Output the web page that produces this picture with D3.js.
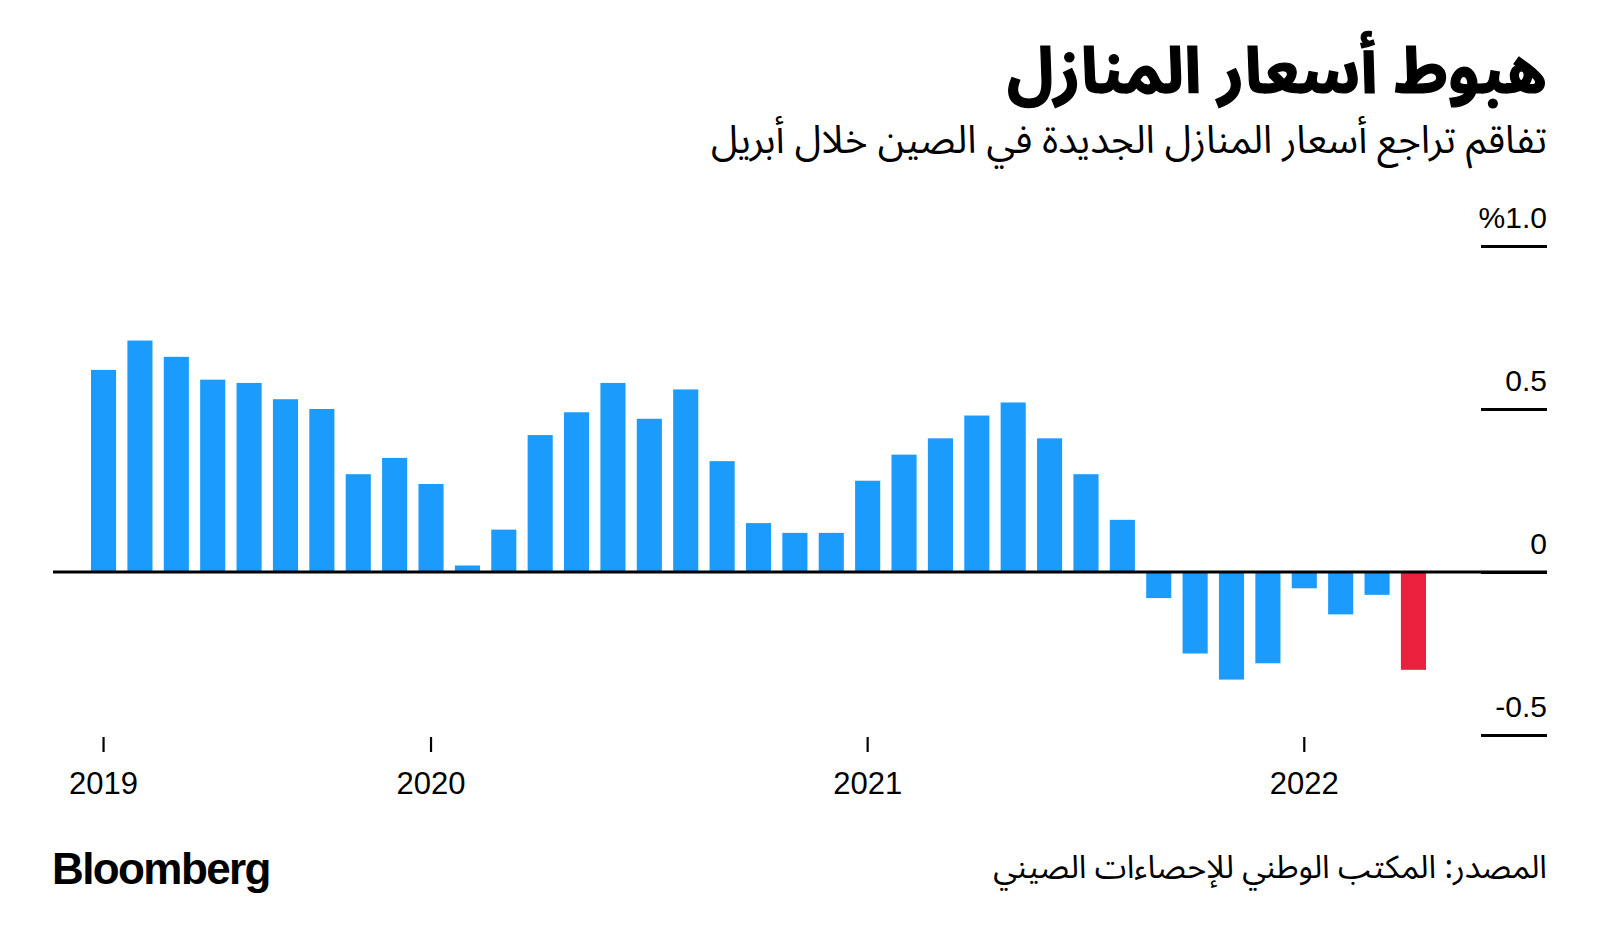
<!DOCTYPE html>
<html>
<head>
<meta charset="utf-8">
<script src="https://cdn.jsdelivr.net/npm/d3@7"></script>
<style>
  html, body { margin: 0; padding: 0; background: #ffffff; }
  svg { display: block; }
  .ar { font-family: "Noto Sans Arabic", "Noto Kufi Arabic", "DejaVu Sans", sans-serif; }
  .lat { font-family: "Liberation Sans", Arial, Helvetica, sans-serif; }
</style>
</head>
<body>
<svg id="chart" width="1600" height="949"></svg>
<script>
// ---- data ----
const months = [
  "2019-04","2019-05","2019-06","2019-07","2019-08","2019-09","2019-10","2019-11","2019-12",
  "2020-01","2020-02","2020-03","2020-04","2020-05","2020-06","2020-07","2020-08","2020-09","2020-10","2020-11","2020-12",
  "2021-01","2021-02","2021-03","2021-04","2021-05","2021-06","2021-07","2021-08","2021-09","2021-10","2021-11","2021-12",
  "2022-01","2022-02","2022-03","2022-04"
];
const values = [
  0.62, 0.71, 0.66, 0.59, 0.58, 0.53, 0.50, 0.30, 0.35,
  0.27, 0.02, 0.13, 0.42, 0.49, 0.58, 0.47, 0.56, 0.34, 0.15, 0.12, 0.12,
  0.28, 0.36, 0.41, 0.48, 0.52, 0.41, 0.30, 0.16, -0.08, -0.25, -0.33, -0.28,
  -0.05, -0.13, -0.07, -0.30
];
const highlightMonth = "2022-04";
const xTickMonths = ["2019-04", "2020-01", "2021-01", "2022-01"];
const xTickLabels = ["2019", "2020", "2021", "2022"];
const yTickValues = [-0.5, 0, 0.5, 1.0];
const yTickLabels = ["-0.5", "0", "0.5", "%1.0"];
const titleText = "هبوط أسعار المنازل";
const subtitleText = "تفاقم تراجع أسعار المنازل الجديدة في الصين خلال أبريل";
const sourceText = "المصدر: المكتب الوطني للإحصاءات الصيني";
const brandText = "Bloomberg";

// ---- layout ----
const svg = d3.select("#chart");
const blue = "#1b9bfc", red = "#ea203c";

const x = d3.scaleBand().domain(months).range([91, 1426]).paddingInner(0.31).paddingOuter(0);
const y = d3.scaleLinear().domain([-0.5, 1.0]).range([735, 246]);

// bars
svg.append("g").selectAll("rect")
  .data(months.map((m, i) => ({ m, v: values[i] })))
  .join("rect")
  .attr("x", d => x(d.m))
  .attr("width", x.bandwidth())
  .attr("y", d => y(Math.max(0, d.v)))
  .attr("height", d => Math.abs(y(d.v) - y(0)))
  .attr("fill", d => d.m === highlightMonth ? red : blue);

// y axis (short ticks at right with labels above)
const yAxis = d3.axisLeft(y).tickValues(yTickValues).tickSize(66)
  .tickFormat((d, i) => yTickLabels[i]);
const gy = svg.append("g").attr("transform", "translate(1547,0)").call(yAxis);
gy.select(".domain").remove();
gy.selectAll(".tick line").attr("stroke", "#000").attr("stroke-width", 3);
gy.selectAll(".tick text")
  .attr("class", "lat")
  .attr("x", 0).attr("dy", "-19").attr("text-anchor", "end")
  .attr("direction", "ltr")
  .style("font-size", "30px").attr("fill", "#000");

// zero line
svg.append("line")
  .attr("x1", 53).attr("x2", 1547)
  .attr("y1", y(0)).attr("y2", y(0))
  .attr("stroke", "#000").attr("stroke-width", 3);

// x axis
const xAxis = d3.axisBottom(x).tickValues(xTickMonths).tickSize(15)
  .tickFormat((d, i) => xTickLabels[i]);
const gx = svg.append("g").attr("transform", "translate(0,737)").call(xAxis);
gx.select(".domain").remove();
gx.selectAll(".tick line").attr("stroke", "#000").attr("stroke-width", 2.2);
gx.selectAll(".tick text")
  .attr("class", "lat")
  .attr("y", 57).attr("dy", 0)
  .style("font-size", "31px").attr("fill", "#000");

// texts
function fitText(sel, target) {
  const w = sel.node().getComputedTextLength();
  const fs = parseFloat(sel.style("font-size"));
  if (w > 0) sel.style("font-size", (fs * target / w) + "px");
}
const title = svg.append("text").attr("class", "ar")
  .attr("x", 1547).attr("y", 93).attr("text-anchor", "start").attr("direction", "rtl")
  .style("font-size", "60px").style("font-weight", "bold").attr("fill", "#000")
  .attr("stroke", "#000").attr("stroke-width", 1.2)
  .text(titleText);
fitText(title, 540);

const subtitle = svg.append("text").attr("class", "ar")
  .attr("x", 1547).attr("y", 153).attr("text-anchor", "start").attr("direction", "rtl")
  .style("font-size", "36px").attr("fill", "#000")
  .text(subtitleText);
fitText(subtitle, 836);

const source = svg.append("text").attr("class", "ar")
  .attr("x", 1547).attr("y", 878).attr("text-anchor", "start").attr("direction", "rtl")
  .style("font-size", "28px").attr("fill", "#000")
  .text(sourceText);
fitText(source, 554);

svg.append("text").attr("class", "lat")
  .attr("x", 52).attr("y", 884)
  .style("font-size", "44px").style("font-weight", "bold")
  .style("letter-spacing", "-1.6px").attr("fill", "#000")
  .text(brandText);
</script>
</body>
</html>
